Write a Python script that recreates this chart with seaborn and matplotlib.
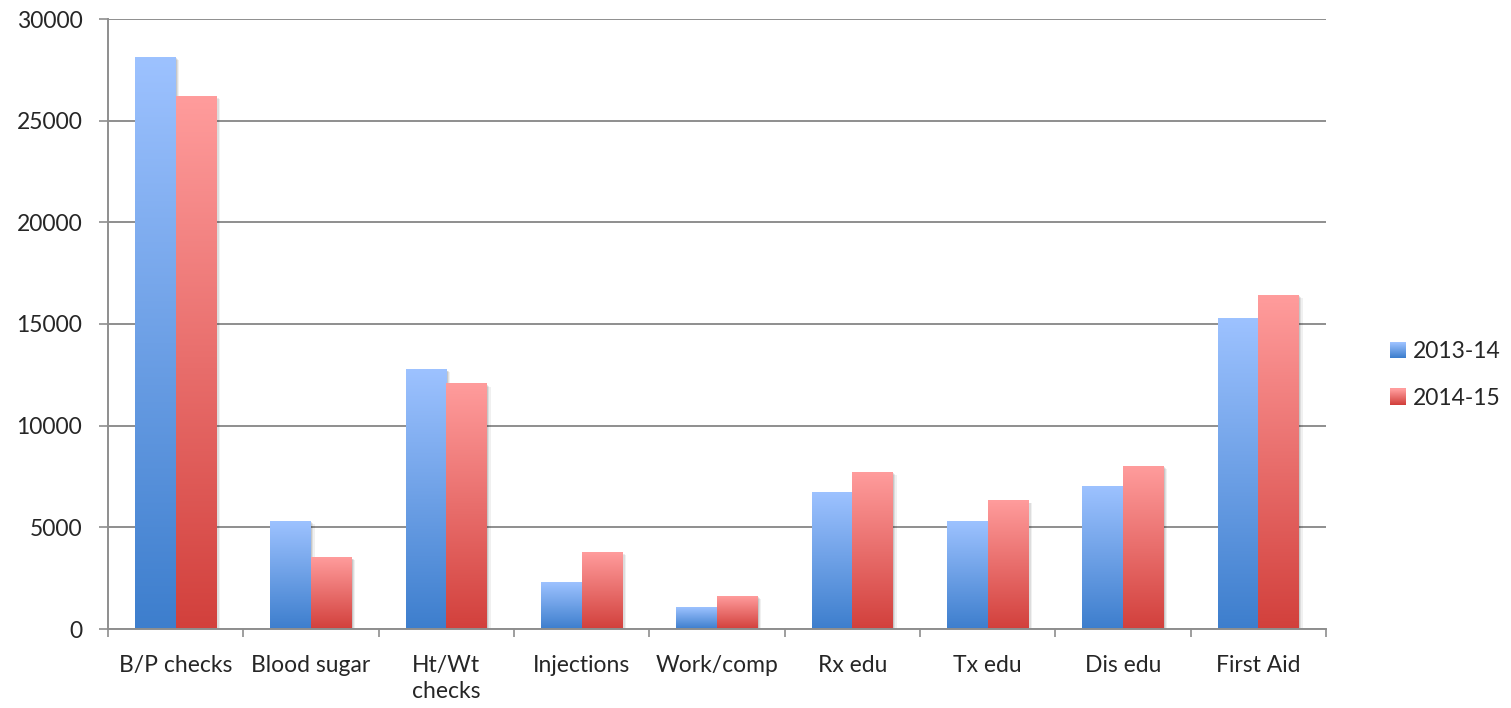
import numpy as np
import pandas as pd
import matplotlib
matplotlib.use('Agg')
import matplotlib.pyplot as plt
import seaborn as sns
from matplotlib.colors import LinearSegmentedColormap
from matplotlib.patches import Patch, Rectangle
from matplotlib.legend_handler import HandlerBase

# data
categories = ['B/P checks', 'Blood sugar', 'Ht/Wt\nchecks', 'Injections', 'Work/comp',
              'Rx edu', 'Tx edu', 'Dis edu', 'First Aid']
years = ['2013-14', '2014-15']
vals_2013 = [28100, 5300, 12750, 2300, 1080, 6700, 5300, 7030, 15250]
vals_2014 = [26200, 3500, 12050, 3750, 1620, 7720, 6300, 8000, 16400]

df = pd.DataFrame({
    'cat': categories * 2,
    'year': [years[0]] * len(categories) + [years[1]] * len(categories),
    'value': vals_2013 + vals_2014,
})

# gradient colours (top -> bottom)
top_col = {'2013-14': '#9DC2FF', '2014-15': '#FF9C9C'}
bot_col = {'2013-14': '#3D7ECD', '2014-15': '#D2403C'}
mid_col = {'2013-14': '#6FA0E8', '2014-15': '#EA6E6B'}
grid_col = '#8E8E8E'
fs = 16.5

cmaps = {y: LinearSegmentedColormap.from_list(y, [bot_col[y], top_col[y]]) for y in years}


class GradientHandler(HandlerBase):
    # legend square drawn as thin horizontal strips
    def create_artists(self, legend, orig_handle, xdescent, ydescent, width, height,
                       fontsize, trans):
        cmap = cmaps[orig_handle.get_label()]
        n = 16
        arts = []
        for i in range(n):
            r = Rectangle((-xdescent, -ydescent + height * i / n), width, height / n + 0.3,
                          facecolor=cmap(i / (n - 1)), edgecolor='none', transform=trans)
            arts.append(r)
        return arts


sns.set_style('white')
plt.rcParams['font.family'] = ['Lato', 'DejaVu Sans']
plt.rcParams['font.size'] = fs

fig = plt.figure(figsize=(15.11, 7.08), dpi=100)
ax = fig.add_axes([108 / 1511, 79 / 708, (1326 - 108) / 1511, (629 - 19) / 708])

sns.barplot(data=df, x='cat', y='value', hue='year', hue_order=years,
            palette=mid_col, width=0.6, saturation=1, ax=ax, legend=False, zorder=3)

# replace flat fills by vertical gradients + soft shadow
grad = np.linspace(0, 1, 256).reshape(-1, 1)
for yr, cont in zip(years, ax.containers):
    for bar in cont:
        x0, w, h = bar.get_x(), bar.get_width(), bar.get_height()
        for off, a in [(0.028, 0.06), (0.018, 0.08), (0.009, 0.10)]:
            ax.add_patch(Rectangle((x0 + off, -off * 4500), w, h, facecolor='black',
                                   edgecolor='none', alpha=a, zorder=2))
        ax.imshow(grad, extent=[x0, x0 + w, 0, h], origin='lower', aspect='auto',
                  cmap=cmaps[yr], zorder=3 + (yr == years[1]) * 0.5, interpolation='bilinear')
        bar.set_facecolor('none')
        bar.set_edgecolor('none')

ax.set_xlim(-0.5, len(categories) - 0.5)
ax.set_ylim(0, 30000)
ax.set_yticks(range(0, 30001, 5000))
ax.yaxis.grid(True, color=grid_col, linewidth=1.4, zorder=0)
ax.set_axisbelow(True)
ax.set_xlabel('')
ax.set_ylabel('')

for s in ['top', 'right']:
    ax.spines[s].set_visible(False)
for s in ['left', 'bottom']:
    ax.spines[s].set_color(grid_col)
    ax.spines[s].set_linewidth(1.4)
    ax.spines[s].set_zorder(4)

ax.tick_params(axis='y', direction='out', length=6.5, width=1.2, color=grid_col,
               pad=12, labelsize=fs, left=True)
ax.set_xticks(range(len(categories)))
ax.set_xticklabels(categories, fontsize=fs, linespacing=1.3, va='top')
ax.set_xticks(np.arange(-0.5, len(categories), 1), minor=True)
ax.tick_params(axis='x', which='major', length=0, pad=19)
ax.tick_params(axis='x', which='minor', direction='out', length=6, width=1.2,
               color=grid_col, bottom=True)

handles = [Patch(facecolor=mid_col[y], edgecolor='none', label=y) for y in years]
fig.legend(handles=handles, loc='center left', bbox_to_anchor=(1390 / 1511, 1 - 375 / 708),
           frameon=False, fontsize=fs, handlelength=0.7, handleheight=0.7,
           handletextpad=0.3, labelspacing=1.1, borderaxespad=0, borderpad=0,
           handler_map={Patch: GradientHandler()})

fig.savefig('out.png', dpi=100)
